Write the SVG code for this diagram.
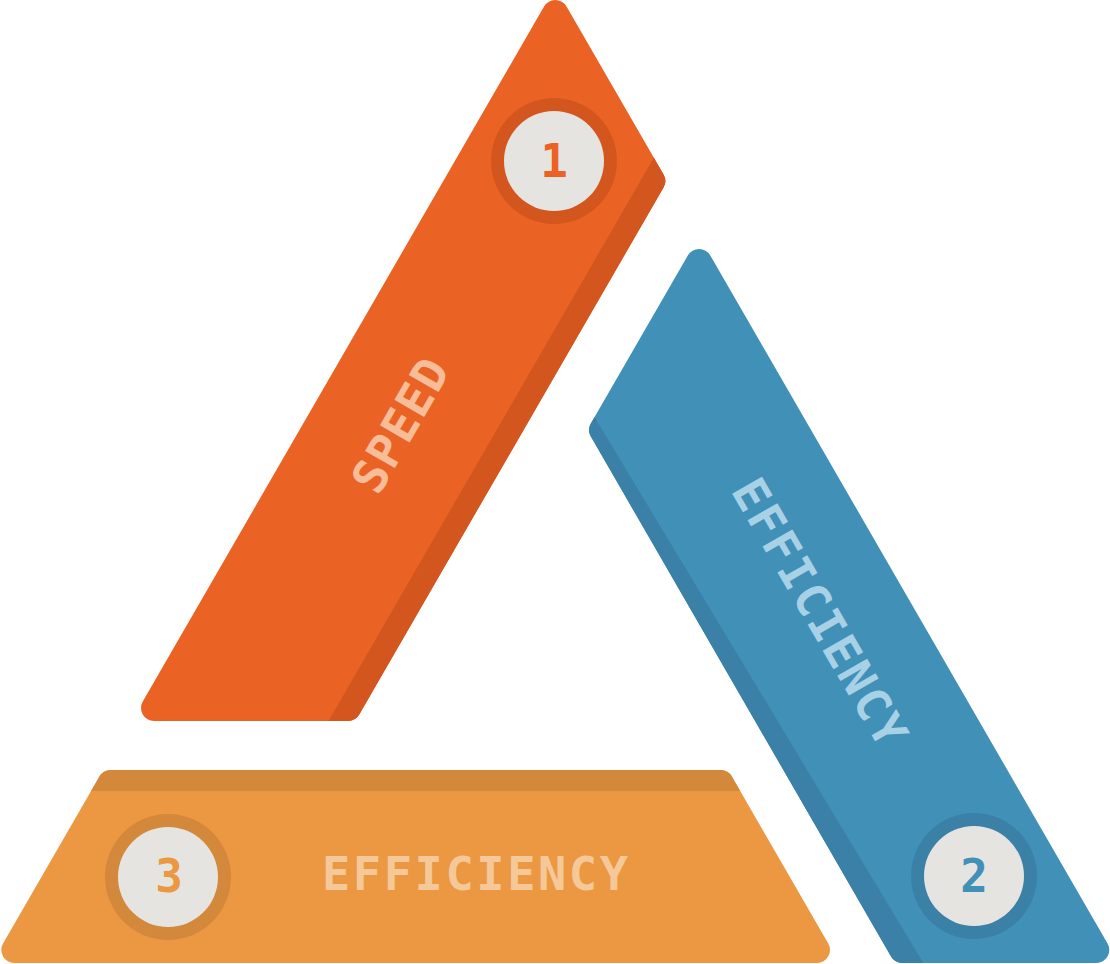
<svg xmlns="http://www.w3.org/2000/svg" width="1110" height="964" viewBox="0 0 1110 964">
<style>
.lbl{font-family:"DejaVu Sans Mono","Liberation Mono",monospace;font-weight:bold;text-anchor:middle}
.num{font-family:"DejaVu Sans Mono","Liberation Mono",monospace;font-weight:bold;font-size:46px;text-anchor:middle}
.disc{fill:#E5E4E0}
</style>
<defs>
<path id="shapeA" d="M544.05 6.49 A13 13 0 0 1 566.55 6.49 L663.55 174.5 A13 13 0 0 1 663.55 187.5 L359.25 714.5 A13 13 0 0 1 348 721 L154 721 A13 13 0 0 1 142.75 701.5 Z"/>
<path id="shapeB" d="M687.81 255.49 A13 13 0 0 1 710.31 255.49 L1107.55 943.51 A13 13 0 0 1 1096.3 963 L902.3 963 A13 13 0 0 1 891.05 956.5 L590.85 436.5 A13 13 0 0 1 590.85 423.5 Z"/>
<path id="shapeC" d="M99.45 776.5 A13 13 0 0 1 110.7 770 L720.6 770 A13 13 0 0 1 731.85 776.5 L828.25 943.51 A13 13 0 0 1 817 963 L14.3 963 A13 13 0 0 1 3.05 943.51 Z"/>
<clipPath id="clipA"><use href="#shapeA"/></clipPath>
<clipPath id="clipB"><use href="#shapeB"/></clipPath>
<clipPath id="clipC"><use href="#shapeC"/></clipPath>
</defs>
<g id="connectors"/>
<g id="node-speed">
<use href="#shapeA" fill="#EB6324"/>
<polygon clip-path="url(#clipA)" points="687.1,100 317.5,740 420,740 800,100" fill="#D4561F"/>
<circle cx="554" cy="161" r="63" fill="#D4561F"/>
<circle class="disc" cx="554" cy="161" r="50"/>
<text class="num" x="554" y="177" fill="#EB6324">1</text>
<text class="lbl" transform="translate(400,425) rotate(-60)" x="0" y="17" font-size="47" textLength="146" lengthAdjust="spacing" fill="#F7BC98">SPEED</text>
</g>
<g id="node-efficiency-2">
<use href="#shapeB" fill="#4190B8"/>
<polygon clip-path="url(#clipB)" points="500,380 572.2,380 933.6,980 800,980" fill="#3B80A6"/>
<circle cx="974" cy="876" r="63" fill="#3B80A6"/>
<circle class="disc" cx="974" cy="876" r="50"/>
<text class="num" x="974" y="892" fill="#4190B8">2</text>
<text class="lbl" transform="translate(820,612) rotate(60)" x="0" y="17" font-size="47" textLength="300" lengthAdjust="spacing" fill="#A9D1E6">EFFICIENCY</text>
</g>
<g id="node-efficiency-3">
<use href="#shapeC" fill="#EC9742"/>
<rect clip-path="url(#clipC)" x="0" y="760" width="900" height="31" fill="#D4883B"/>
<circle cx="168" cy="877" r="63" fill="#D4883B"/>
<circle class="disc" cx="168" cy="877" r="50"/>
<text class="num" x="169" y="892" fill="#EC9742">3</text>
<text class="lbl" x="475" y="890" font-size="47" textLength="306" lengthAdjust="spacing" fill="#F5C89A">EFFICIENCY</text>
</g>
</svg>
